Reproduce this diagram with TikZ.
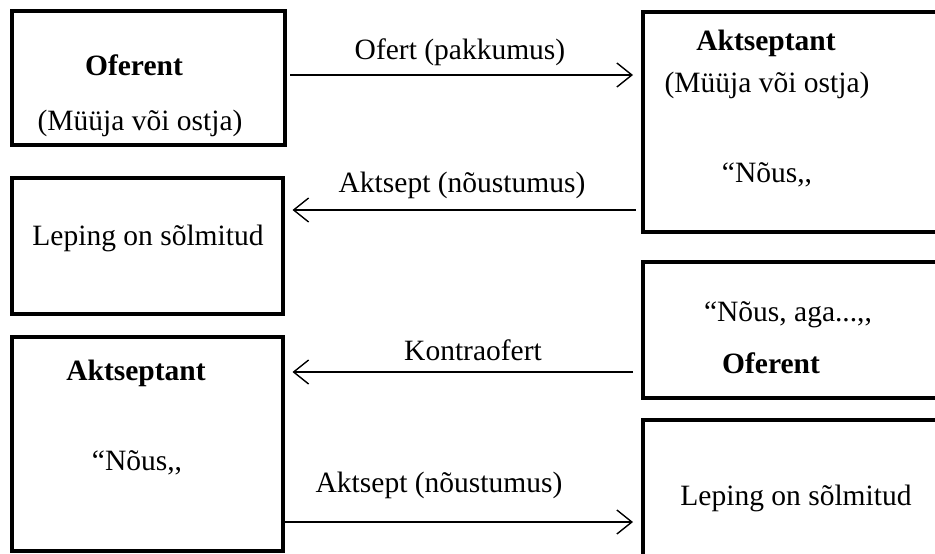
\documentclass[tikz,border=0pt]{standalone}
\usepackage{fontspec}
\setmainfont{Liberation Serif}[Ligatures=TeX]
\usetikzlibrary{arrows.meta}
\begin{document}
\begin{tikzpicture}[x=1pt,y=-1pt,
  box/.style={draw=black,line width=4.5pt,rectangle,inner sep=0pt,outer sep=0pt},
  txt/.style={inner sep=0pt,font=\fontsize{29.5}{35}\selectfont},
  btxt/.style={txt,font=\fontsize{29.5}{35}\selectfont\bfseries},
  arr/.style={line width=1.4pt,-{Straight Barb[length=15pt,width=24pt,line width=1.4pt]}}]
\useasboundingbox (0,0) rectangle (935,554);
\clip (0,0) rectangle (935,554);
% boxes
\node[box,minimum width=273pt,minimum height=134pt] (o1) at (148.5,78) {};
\node[box,minimum width=320pt,minimum height=220pt] (a1) at (803,122) {};
\node[box,minimum width=271pt,minimum height=136pt] (l1) at (147.5,246) {};
\node[box,minimum width=320pt,minimum height=136pt] (k1) at (803,330) {};
\node[box,minimum width=271pt,minimum height=214pt] (a2) at (147.5,444) {};
\node[box,minimum width=320pt,minimum height=200pt] (l2) at (803,520) {};
% texts
\node[btxt] (t1) at (134,65) {Oferent};
\node[txt] (t2) at (140,123) {(Müüja või ostja)};
\node[btxt] (t3) at (766,43) {Aktseptant};
\node[txt] (t4) at (767,85) {(Müüja või ostja)};
\node[txt] (t5) at (767,175) {“Nõus,{},};
\node[txt] (t6) at (148,238) {Leping on sõlmitud};
\node[txt] (t7) at (788,315) {“Nõus, aga...,{},};
\node[btxt] (t8) at (771,363) {Oferent};
\node[btxt] (t9) at (136,373) {Aktseptant};
\node[txt] (t10) at (137,463) {“Nõus,{},};
\node[txt] (t11) at (796,498) {Leping on sõlmitud};
% arrows
\draw[arr,shorten <=5pt,shorten >=10pt] (o1.east |- 0,75) -- (a1.west |- 0,75);
\draw[arr,shorten <=7.5pt,shorten >=9.5pt] (a1.west |- 0,210) -- (l1.east |- 0,210);
\draw[arr,shorten <=10pt,shorten >=9.5pt] (k1.west |- 0,372) -- (a2.east |- 0,372);
\draw[arr,shorten <=0pt,shorten >=10pt] (a2.east |- 0,522) -- (l2.west |- 0,522);
% arrow labels
\node[txt] (e1) at (460,52) {Ofert (pakkumus)};
\node[txt] (e2) at (462,185) {Aktsept (nõustumus)};
\node[txt] (e3) at (473,350) {Kontraofert};
\node[txt] (e4) at (439,485) {Aktsept (nõustumus)};
\end{tikzpicture}
\end{document}
